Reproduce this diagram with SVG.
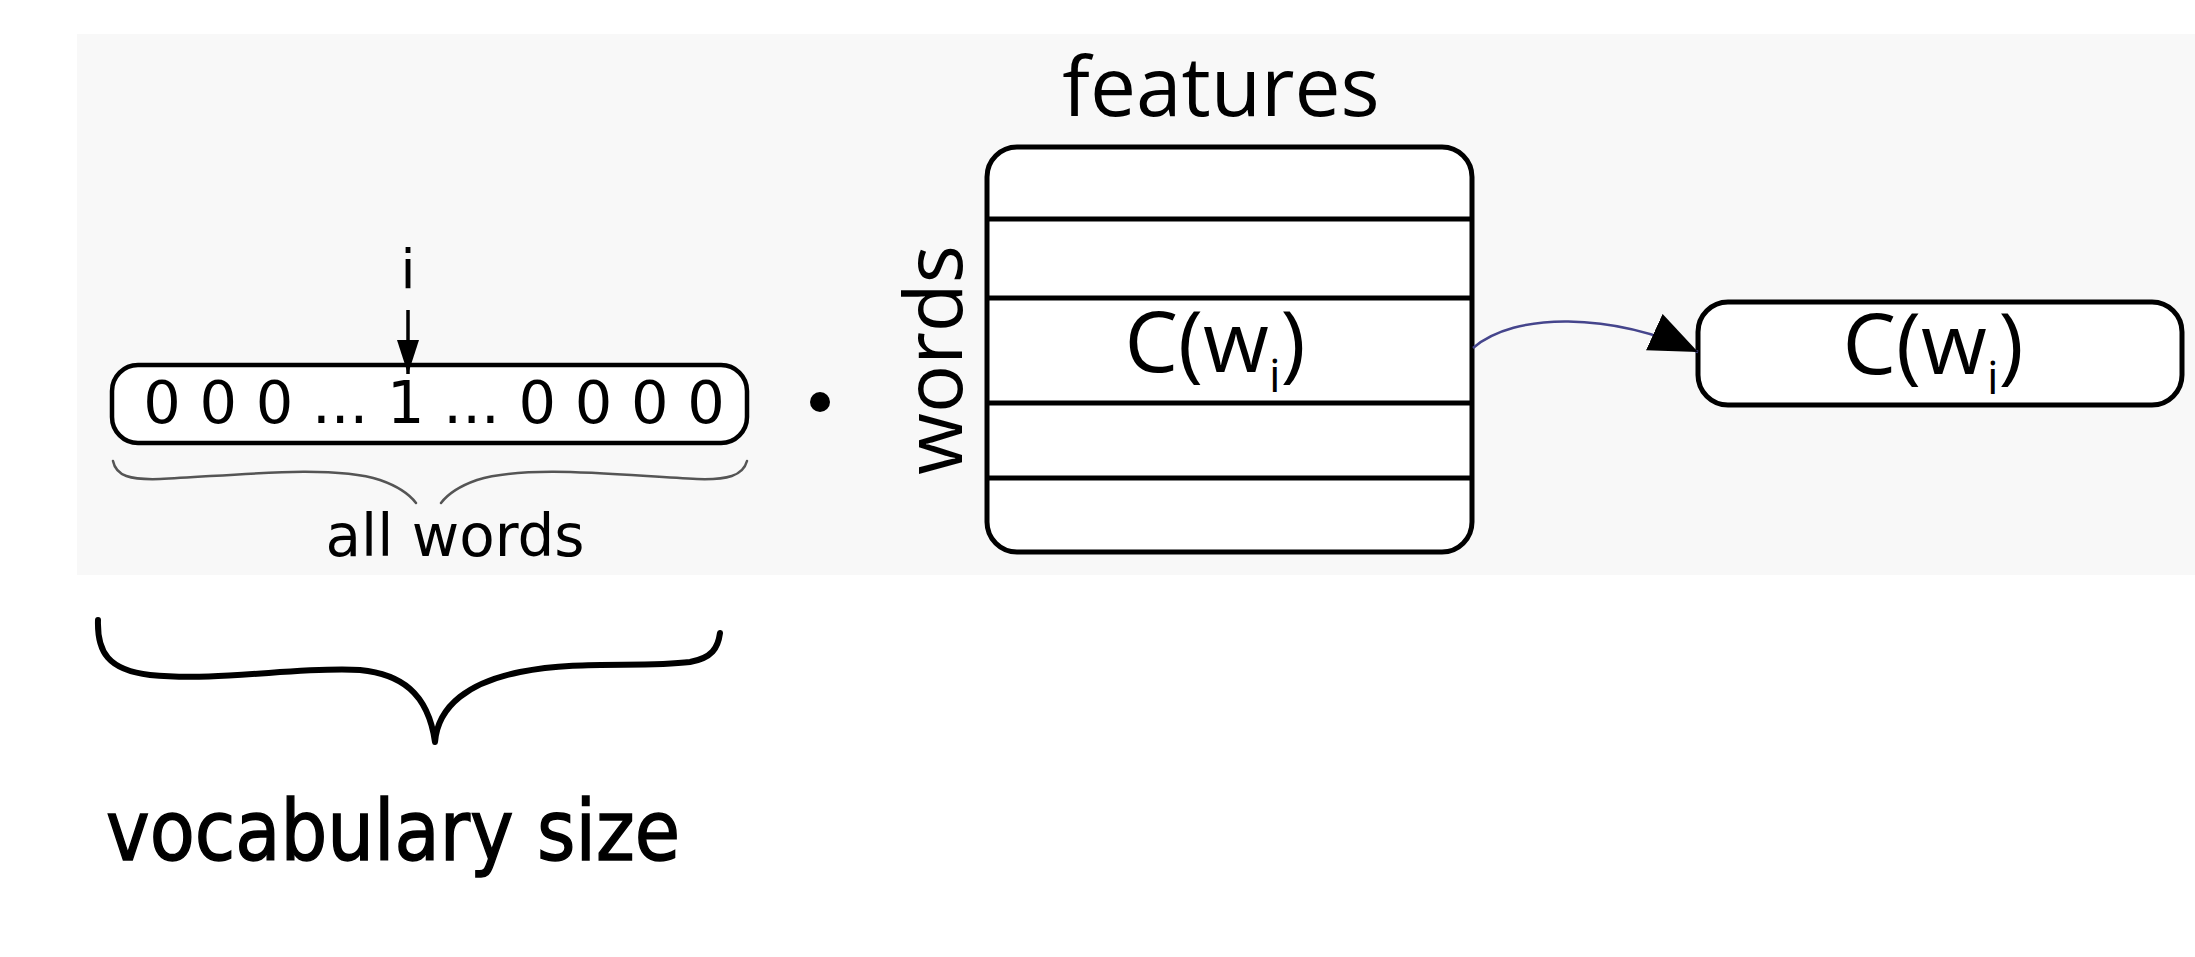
<svg xmlns="http://www.w3.org/2000/svg" width="2195" height="957" viewBox="0 0 2195 957">
<style>
.box{fill:#ffffff;stroke:#000000;stroke-width:5}
.sep{stroke:#000000;stroke-width:5}
.os{font-family:"Open Sans","DejaVu Sans",sans-serif;fill:#000000}
.dv{font-family:"DejaVu Sans","Liberation Sans",sans-serif;fill:#000000}
.brace{fill:none;stroke:#555555;stroke-width:2.5;stroke-linecap:round}
.hand{fill:none;stroke:#000000;stroke-width:6;stroke-linecap:round;stroke-linejoin:round}
</style>
<defs>
<marker id="headBig" viewBox="0 0 48 40" markerWidth="48" markerHeight="40" refX="48" refY="20" orient="auto" markerUnits="userSpaceOnUse">
<path d="M0,0 L48,20 L0,40 z" fill="#000000"/>
</marker>
<marker id="headSmall" viewBox="0 0 34 22" markerWidth="34" markerHeight="22" refX="34" refY="11" orient="auto" markerUnits="userSpaceOnUse">
<path d="M0,0 L34,11 L0,22 z" fill="#000000"/>
</marker>
</defs>
<rect width="2195" height="957" fill="#ffffff"/>
<rect id="panel" x="77" y="34" width="2118" height="541" fill="#f8f8f8"/>

<g id="index-label">
<text class="dv" x="408" y="288" font-size="54" text-anchor="middle">i</text>
</g>

<g id="one-hot-vector">
<rect class="box" x="112" y="365" width="635" height="78" rx="26" style="stroke-width:4.5"/>
<text class="dv" x="434" y="423" font-size="59" text-anchor="middle">0 0 0 ... 1 ... 0 0 0 0</text>
</g>

<g id="all-words-brace">
<path class="brace" d="M113,461 C116,476 130,480 160,479 C230,476 330,464 380,480 C400,487 410,495 416,503"/>
<path class="brace" d="M441,503 C447,495 457,487 477,480 C527,464 627,476 697,479 C727,480 743,476 747,461"/>
<text class="dv" x="455" y="556" font-size="58" text-anchor="middle">all words</text>
</g>

<g id="dot-product">
<circle cx="820" cy="402" r="10" fill="#000000"/>
</g>

<g id="embedding-matrix">
<text class="os" x="1221" y="116" font-size="82" text-anchor="middle">features</text>
<text class="os" transform="translate(962,360) rotate(-90)" font-size="80" text-anchor="middle">words</text>
<rect class="box" x="987" y="147" width="485" height="405" rx="30"/>
<line class="sep" x1="987" y1="219" x2="1472" y2="219"/>
<line class="sep" x1="987" y1="298" x2="1472" y2="298"/>
<line class="sep" x1="987" y1="403" x2="1472" y2="403"/>
<line class="sep" x1="987" y1="478" x2="1472" y2="478"/>
<text class="os" x="1215" y="372" font-size="85" text-anchor="middle">C(w<tspan font-size="46" dy="20">i</tspan><tspan dy="-20">)</tspan></text>
</g>

<g id="output-vector">
<rect class="box" x="1698" y="302" width="484" height="103" rx="30"/>
<text class="os" x="1933" y="374" font-size="85" text-anchor="middle">C(w<tspan font-size="46" dy="20">i</tspan><tspan dy="-20">)</tspan></text>
</g>

<g id="connectors">
<line x1="408" y1="310" x2="408" y2="374" stroke="#000000" stroke-width="3.5" marker-end="url(#headSmall)"/>
<path d="M1473,348 C1515,312 1610,312 1698,352" fill="none" stroke="#45458c" stroke-width="2.5" marker-end="url(#headBig)"/>
</g>

<g id="vocabulary-annotation">
<path class="hand" d="M98,620 C97,652 108,670 150,675 C220,682 300,666 360,670 C400,674 428,692 435,742 C438,705 470,682 520,672 C580,660 640,668 690,662 C712,658 718,648 720,633"/>
<text x="106" y="860" font-family="'DejaVu Sans','Liberation Sans',sans-serif" font-size="84" textLength="574" lengthAdjust="spacingAndGlyphs" fill="#000000" stroke="#000000" stroke-width="1.5">vocabulary size</text>
</g>
</svg>
